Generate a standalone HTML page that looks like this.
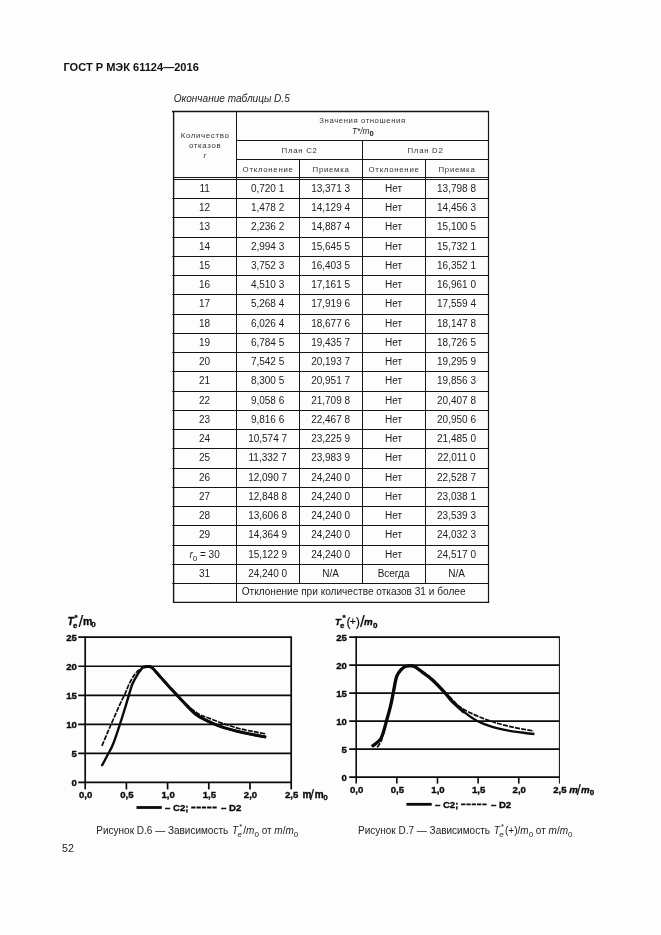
<!DOCTYPE html>
<html lang="ru"><head><meta charset="utf-8"><title>ГОСТ Р МЭК 61124—2016</title>
<style>
html,body{margin:0;padding:0;background:#fdfdfd}
body{width:661px;height:935px;position:relative;overflow:hidden;font-family:"Liberation Sans",sans-serif;color:#1a1a1a}
.l{position:absolute;background:#111}
.c,.h,.h2,.t{position:absolute;text-align:center;white-space:nowrap}
.c{font-size:10px;color:#1c1c1c;margin-top:-0.5px;margin-left:-0.5px}
.c sub{font-size:8px;vertical-align:-2.5px;line-height:0}
.h{font-size:7.8px;line-height:10.3px;color:#333;letter-spacing:0.7px}
.tm{font-size:8.3px;letter-spacing:0;color:#222;position:relative;top:-0.7px;left:0.3px}
.tm sub{font-size:7.6px;vertical-align:-2.4px;line-height:0;font-weight:bold;font-style:normal;color:#111}
.h2{font-size:7.8px;color:#333;letter-spacing:0.72px;padding-top:1px}
.t{text-align:left}
svg{position:absolute;left:0;top:0}
.tk{font-family:"Liberation Sans",sans-serif;font-weight:bold;font-size:9.6px;fill:#0a0a0a;stroke:#0a0a0a;stroke-width:0.35px}
sub.s{font-size:8px;line-height:0;vertical-align:-2.6px}
#pg{position:absolute;left:0;top:0;width:661px;height:935px;will-change:transform}
</style></head><body><div id="pg">
<div class="t" style="left:63.5px;top:60.8px;font-size:11.05px;font-weight:bold;line-height:13px;color:#111">ГОСТ Р МЭК 61124—2016</div>
<div class="t" style="left:173.7px;top:91.5px;font-size:10.05px;font-style:italic;line-height:13px;color:#222">Окончание таблицы D.5</div>
<div class="h" style="left:173.6px;top:130.5px;width:63.0px">Количество<br>отказов<br><i>r</i></div>
<div class="h" style="left:236.6px;top:116.2px;width:251.9px"><span style="letter-spacing:0.55px">Значения отношения</span><br><span class="tm"><i>T*/m</i><sub>0</sub></span></div>
<div class="h2" style="left:236.60px;top:140.40px;width:126.00px;height:19.30px;line-height:19.30px">План C2</div>
<div class="h2" style="left:362.60px;top:140.40px;width:125.90px;height:19.30px;line-height:19.30px">План D2</div>
<div class="h2" style="left:236.60px;top:159.70px;width:63.00px;height:17.60px;line-height:17.60px">Отклонение</div>
<div class="h2" style="left:299.60px;top:159.70px;width:63.00px;height:17.60px;line-height:17.60px">Приемка</div>
<div class="h2" style="left:362.60px;top:159.70px;width:62.90px;height:17.60px;line-height:17.60px">Отклонение</div>
<div class="h2" style="left:425.50px;top:159.70px;width:63.00px;height:17.60px;line-height:17.60px">Приемка</div>
<div class="c" style="left:173.60px;top:179.30px;width:63.00px;height:19.25px;line-height:19.25px">11</div>
<div class="c" style="left:236.60px;top:179.30px;width:63.00px;height:19.25px;line-height:19.25px">0,720 1</div>
<div class="c" style="left:299.60px;top:179.30px;width:63.00px;height:19.25px;line-height:19.25px">13,371 3</div>
<div class="c" style="left:362.60px;top:179.30px;width:62.90px;height:19.25px;line-height:19.25px">Нет</div>
<div class="c" style="left:425.50px;top:179.30px;width:63.00px;height:19.25px;line-height:19.25px">13,798 8</div>
<div class="c" style="left:173.60px;top:198.55px;width:63.00px;height:19.25px;line-height:19.25px">12</div>
<div class="c" style="left:236.60px;top:198.55px;width:63.00px;height:19.25px;line-height:19.25px">1,478 2</div>
<div class="c" style="left:299.60px;top:198.55px;width:63.00px;height:19.25px;line-height:19.25px">14,129 4</div>
<div class="c" style="left:362.60px;top:198.55px;width:62.90px;height:19.25px;line-height:19.25px">Нет</div>
<div class="c" style="left:425.50px;top:198.55px;width:63.00px;height:19.25px;line-height:19.25px">14,456 3</div>
<div class="c" style="left:173.60px;top:217.80px;width:63.00px;height:19.25px;line-height:19.25px">13</div>
<div class="c" style="left:236.60px;top:217.80px;width:63.00px;height:19.25px;line-height:19.25px">2,236 2</div>
<div class="c" style="left:299.60px;top:217.80px;width:63.00px;height:19.25px;line-height:19.25px">14,887 4</div>
<div class="c" style="left:362.60px;top:217.80px;width:62.90px;height:19.25px;line-height:19.25px">Нет</div>
<div class="c" style="left:425.50px;top:217.80px;width:63.00px;height:19.25px;line-height:19.25px">15,100 5</div>
<div class="c" style="left:173.60px;top:237.04px;width:63.00px;height:19.25px;line-height:19.25px">14</div>
<div class="c" style="left:236.60px;top:237.04px;width:63.00px;height:19.25px;line-height:19.25px">2,994 3</div>
<div class="c" style="left:299.60px;top:237.04px;width:63.00px;height:19.25px;line-height:19.25px">15,645 5</div>
<div class="c" style="left:362.60px;top:237.04px;width:62.90px;height:19.25px;line-height:19.25px">Нет</div>
<div class="c" style="left:425.50px;top:237.04px;width:63.00px;height:19.25px;line-height:19.25px">15,732 1</div>
<div class="c" style="left:173.60px;top:256.29px;width:63.00px;height:19.25px;line-height:19.25px">15</div>
<div class="c" style="left:236.60px;top:256.29px;width:63.00px;height:19.25px;line-height:19.25px">3,752 3</div>
<div class="c" style="left:299.60px;top:256.29px;width:63.00px;height:19.25px;line-height:19.25px">16,403 5</div>
<div class="c" style="left:362.60px;top:256.29px;width:62.90px;height:19.25px;line-height:19.25px">Нет</div>
<div class="c" style="left:425.50px;top:256.29px;width:63.00px;height:19.25px;line-height:19.25px">16,352 1</div>
<div class="c" style="left:173.60px;top:275.54px;width:63.00px;height:19.25px;line-height:19.25px">16</div>
<div class="c" style="left:236.60px;top:275.54px;width:63.00px;height:19.25px;line-height:19.25px">4,510 3</div>
<div class="c" style="left:299.60px;top:275.54px;width:63.00px;height:19.25px;line-height:19.25px">17,161 5</div>
<div class="c" style="left:362.60px;top:275.54px;width:62.90px;height:19.25px;line-height:19.25px">Нет</div>
<div class="c" style="left:425.50px;top:275.54px;width:63.00px;height:19.25px;line-height:19.25px">16,961 0</div>
<div class="c" style="left:173.60px;top:294.79px;width:63.00px;height:19.25px;line-height:19.25px">17</div>
<div class="c" style="left:236.60px;top:294.79px;width:63.00px;height:19.25px;line-height:19.25px">5,268 4</div>
<div class="c" style="left:299.60px;top:294.79px;width:63.00px;height:19.25px;line-height:19.25px">17,919 6</div>
<div class="c" style="left:362.60px;top:294.79px;width:62.90px;height:19.25px;line-height:19.25px">Нет</div>
<div class="c" style="left:425.50px;top:294.79px;width:63.00px;height:19.25px;line-height:19.25px">17,559 4</div>
<div class="c" style="left:173.60px;top:314.03px;width:63.00px;height:19.25px;line-height:19.25px">18</div>
<div class="c" style="left:236.60px;top:314.03px;width:63.00px;height:19.25px;line-height:19.25px">6,026 4</div>
<div class="c" style="left:299.60px;top:314.03px;width:63.00px;height:19.25px;line-height:19.25px">18,677 6</div>
<div class="c" style="left:362.60px;top:314.03px;width:62.90px;height:19.25px;line-height:19.25px">Нет</div>
<div class="c" style="left:425.50px;top:314.03px;width:63.00px;height:19.25px;line-height:19.25px">18,147 8</div>
<div class="c" style="left:173.60px;top:333.28px;width:63.00px;height:19.25px;line-height:19.25px">19</div>
<div class="c" style="left:236.60px;top:333.28px;width:63.00px;height:19.25px;line-height:19.25px">6,784 5</div>
<div class="c" style="left:299.60px;top:333.28px;width:63.00px;height:19.25px;line-height:19.25px">19,435 7</div>
<div class="c" style="left:362.60px;top:333.28px;width:62.90px;height:19.25px;line-height:19.25px">Нет</div>
<div class="c" style="left:425.50px;top:333.28px;width:63.00px;height:19.25px;line-height:19.25px">18,726 5</div>
<div class="c" style="left:173.60px;top:352.53px;width:63.00px;height:19.25px;line-height:19.25px">20</div>
<div class="c" style="left:236.60px;top:352.53px;width:63.00px;height:19.25px;line-height:19.25px">7,542 5</div>
<div class="c" style="left:299.60px;top:352.53px;width:63.00px;height:19.25px;line-height:19.25px">20,193 7</div>
<div class="c" style="left:362.60px;top:352.53px;width:62.90px;height:19.25px;line-height:19.25px">Нет</div>
<div class="c" style="left:425.50px;top:352.53px;width:63.00px;height:19.25px;line-height:19.25px">19,295 9</div>
<div class="c" style="left:173.60px;top:371.78px;width:63.00px;height:19.25px;line-height:19.25px">21</div>
<div class="c" style="left:236.60px;top:371.78px;width:63.00px;height:19.25px;line-height:19.25px">8,300 5</div>
<div class="c" style="left:299.60px;top:371.78px;width:63.00px;height:19.25px;line-height:19.25px">20,951 7</div>
<div class="c" style="left:362.60px;top:371.78px;width:62.90px;height:19.25px;line-height:19.25px">Нет</div>
<div class="c" style="left:425.50px;top:371.78px;width:63.00px;height:19.25px;line-height:19.25px">19,856 3</div>
<div class="c" style="left:173.60px;top:391.02px;width:63.00px;height:19.25px;line-height:19.25px">22</div>
<div class="c" style="left:236.60px;top:391.02px;width:63.00px;height:19.25px;line-height:19.25px">9,058 6</div>
<div class="c" style="left:299.60px;top:391.02px;width:63.00px;height:19.25px;line-height:19.25px">21,709 8</div>
<div class="c" style="left:362.60px;top:391.02px;width:62.90px;height:19.25px;line-height:19.25px">Нет</div>
<div class="c" style="left:425.50px;top:391.02px;width:63.00px;height:19.25px;line-height:19.25px">20,407 8</div>
<div class="c" style="left:173.60px;top:410.27px;width:63.00px;height:19.25px;line-height:19.25px">23</div>
<div class="c" style="left:236.60px;top:410.27px;width:63.00px;height:19.25px;line-height:19.25px">9,816 6</div>
<div class="c" style="left:299.60px;top:410.27px;width:63.00px;height:19.25px;line-height:19.25px">22,467 8</div>
<div class="c" style="left:362.60px;top:410.27px;width:62.90px;height:19.25px;line-height:19.25px">Нет</div>
<div class="c" style="left:425.50px;top:410.27px;width:63.00px;height:19.25px;line-height:19.25px">20,950 6</div>
<div class="c" style="left:173.60px;top:429.52px;width:63.00px;height:19.25px;line-height:19.25px">24</div>
<div class="c" style="left:236.60px;top:429.52px;width:63.00px;height:19.25px;line-height:19.25px">10,574 7</div>
<div class="c" style="left:299.60px;top:429.52px;width:63.00px;height:19.25px;line-height:19.25px">23,225 9</div>
<div class="c" style="left:362.60px;top:429.52px;width:62.90px;height:19.25px;line-height:19.25px">Нет</div>
<div class="c" style="left:425.50px;top:429.52px;width:63.00px;height:19.25px;line-height:19.25px">21,485 0</div>
<div class="c" style="left:173.60px;top:448.77px;width:63.00px;height:19.25px;line-height:19.25px">25</div>
<div class="c" style="left:236.60px;top:448.77px;width:63.00px;height:19.25px;line-height:19.25px">11,332 7</div>
<div class="c" style="left:299.60px;top:448.77px;width:63.00px;height:19.25px;line-height:19.25px">23,983 9</div>
<div class="c" style="left:362.60px;top:448.77px;width:62.90px;height:19.25px;line-height:19.25px">Нет</div>
<div class="c" style="left:425.50px;top:448.77px;width:63.00px;height:19.25px;line-height:19.25px">22,011 0</div>
<div class="c" style="left:173.60px;top:468.01px;width:63.00px;height:19.25px;line-height:19.25px">26</div>
<div class="c" style="left:236.60px;top:468.01px;width:63.00px;height:19.25px;line-height:19.25px">12,090 7</div>
<div class="c" style="left:299.60px;top:468.01px;width:63.00px;height:19.25px;line-height:19.25px">24,240 0</div>
<div class="c" style="left:362.60px;top:468.01px;width:62.90px;height:19.25px;line-height:19.25px">Нет</div>
<div class="c" style="left:425.50px;top:468.01px;width:63.00px;height:19.25px;line-height:19.25px">22,528 7</div>
<div class="c" style="left:173.60px;top:487.26px;width:63.00px;height:19.25px;line-height:19.25px">27</div>
<div class="c" style="left:236.60px;top:487.26px;width:63.00px;height:19.25px;line-height:19.25px">12,848 8</div>
<div class="c" style="left:299.60px;top:487.26px;width:63.00px;height:19.25px;line-height:19.25px">24,240 0</div>
<div class="c" style="left:362.60px;top:487.26px;width:62.90px;height:19.25px;line-height:19.25px">Нет</div>
<div class="c" style="left:425.50px;top:487.26px;width:63.00px;height:19.25px;line-height:19.25px">23,038 1</div>
<div class="c" style="left:173.60px;top:506.51px;width:63.00px;height:19.25px;line-height:19.25px">28</div>
<div class="c" style="left:236.60px;top:506.51px;width:63.00px;height:19.25px;line-height:19.25px">13,606 8</div>
<div class="c" style="left:299.60px;top:506.51px;width:63.00px;height:19.25px;line-height:19.25px">24,240 0</div>
<div class="c" style="left:362.60px;top:506.51px;width:62.90px;height:19.25px;line-height:19.25px">Нет</div>
<div class="c" style="left:425.50px;top:506.51px;width:63.00px;height:19.25px;line-height:19.25px">23,539 3</div>
<div class="c" style="left:173.60px;top:525.76px;width:63.00px;height:19.25px;line-height:19.25px">29</div>
<div class="c" style="left:236.60px;top:525.76px;width:63.00px;height:19.25px;line-height:19.25px">14,364 9</div>
<div class="c" style="left:299.60px;top:525.76px;width:63.00px;height:19.25px;line-height:19.25px">24,240 0</div>
<div class="c" style="left:362.60px;top:525.76px;width:62.90px;height:19.25px;line-height:19.25px">Нет</div>
<div class="c" style="left:425.50px;top:525.76px;width:63.00px;height:19.25px;line-height:19.25px">24,032 3</div>
<div class="c" style="left:173.60px;top:545.00px;width:63.00px;height:19.25px;line-height:19.25px"><i>r</i><sub>0</sub> = 30</div>
<div class="c" style="left:236.60px;top:545.00px;width:63.00px;height:19.25px;line-height:19.25px">15,122 9</div>
<div class="c" style="left:299.60px;top:545.00px;width:63.00px;height:19.25px;line-height:19.25px">24,240 0</div>
<div class="c" style="left:362.60px;top:545.00px;width:62.90px;height:19.25px;line-height:19.25px">Нет</div>
<div class="c" style="left:425.50px;top:545.00px;width:63.00px;height:19.25px;line-height:19.25px">24,517 0</div>
<div class="c" style="left:173.60px;top:564.25px;width:63.00px;height:19.25px;line-height:19.25px">31</div>
<div class="c" style="left:236.60px;top:564.25px;width:63.00px;height:19.25px;line-height:19.25px">24,240 0</div>
<div class="c" style="left:299.60px;top:564.25px;width:63.00px;height:19.25px;line-height:19.25px">N/A</div>
<div class="c" style="left:362.60px;top:564.25px;width:62.90px;height:19.25px;line-height:19.25px">Всегда</div>
<div class="c" style="left:425.50px;top:564.25px;width:63.00px;height:19.25px;line-height:19.25px">N/A</div>
<div class="c" style="left:242.20px;top:583.5px;height:18.80px;line-height:18.80px;font-size:10.1px;text-align:left">Отклонение при количестве отказов 31 и более</div>
<svg width="661" height="935" viewBox="0 0 661 935">
<g stroke="#151515"><line x1="172.00" y1="111.50" x2="489.10" y2="111.50" stroke-width="1.3"/>
<line x1="172.90" y1="602.30" x2="489.30" y2="602.30" stroke-width="1.3"/>
<line x1="173.60" y1="111.50" x2="173.60" y2="602.30" stroke-width="1.4"/>
<line x1="488.50" y1="111.50" x2="488.50" y2="602.30" stroke-width="1.2"/>
<line x1="236.60" y1="140.50" x2="488.50" y2="140.50" stroke-width="1.0"/>
<line x1="236.60" y1="159.50" x2="488.50" y2="159.50" stroke-width="1.0"/>
<line x1="173.60" y1="177.50" x2="488.50" y2="177.50" stroke-width="1.0"/>
<line x1="173.60" y1="179.50" x2="488.50" y2="179.50" stroke-width="1.0"/>
<line x1="236.50" y1="111.50" x2="236.50" y2="602.30" stroke-width="1.0"/>
<line x1="362.50" y1="140.40" x2="362.50" y2="583.50" stroke-width="1.0"/>
<line x1="299.50" y1="159.70" x2="299.50" y2="583.50" stroke-width="1.0"/>
<line x1="425.50" y1="159.70" x2="425.50" y2="583.50" stroke-width="1.0"/>
<line x1="172.20" y1="198.50" x2="488.50" y2="198.50" stroke-width="1.0"/>
<line x1="172.20" y1="217.50" x2="488.50" y2="217.50" stroke-width="1.0"/>
<line x1="172.20" y1="237.50" x2="488.50" y2="237.50" stroke-width="1.0"/>
<line x1="172.20" y1="256.50" x2="488.50" y2="256.50" stroke-width="1.0"/>
<line x1="172.20" y1="275.50" x2="488.50" y2="275.50" stroke-width="1.0"/>
<line x1="172.20" y1="294.50" x2="488.50" y2="294.50" stroke-width="1.0"/>
<line x1="172.20" y1="314.50" x2="488.50" y2="314.50" stroke-width="1.0"/>
<line x1="172.20" y1="333.50" x2="488.50" y2="333.50" stroke-width="1.0"/>
<line x1="172.20" y1="352.50" x2="488.50" y2="352.50" stroke-width="1.0"/>
<line x1="172.20" y1="371.50" x2="488.50" y2="371.50" stroke-width="1.0"/>
<line x1="172.20" y1="391.50" x2="488.50" y2="391.50" stroke-width="1.0"/>
<line x1="172.20" y1="410.50" x2="488.50" y2="410.50" stroke-width="1.0"/>
<line x1="172.20" y1="429.50" x2="488.50" y2="429.50" stroke-width="1.0"/>
<line x1="172.20" y1="448.50" x2="488.50" y2="448.50" stroke-width="1.0"/>
<line x1="172.20" y1="468.50" x2="488.50" y2="468.50" stroke-width="1.0"/>
<line x1="172.20" y1="487.50" x2="488.50" y2="487.50" stroke-width="1.0"/>
<line x1="172.20" y1="506.50" x2="488.50" y2="506.50" stroke-width="1.0"/>
<line x1="172.20" y1="525.50" x2="488.50" y2="525.50" stroke-width="1.0"/>
<line x1="172.20" y1="545.50" x2="488.50" y2="545.50" stroke-width="1.0"/>
<line x1="172.20" y1="564.50" x2="488.50" y2="564.50" stroke-width="1.0"/>
<line x1="172.20" y1="583.50" x2="488.50" y2="583.50" stroke-width="1.0"/></g>
<line x1="78.20" y1="637.20" x2="291.20" y2="637.20" stroke="#0a0a0a" stroke-width="1.7"/>
<line x1="78.20" y1="666.24" x2="291.20" y2="666.24" stroke="#0a0a0a" stroke-width="1.7"/>
<line x1="78.20" y1="695.28" x2="291.20" y2="695.28" stroke="#0a0a0a" stroke-width="1.7"/>
<line x1="78.20" y1="724.32" x2="291.20" y2="724.32" stroke="#0a0a0a" stroke-width="1.7"/>
<line x1="78.20" y1="753.36" x2="291.20" y2="753.36" stroke="#0a0a0a" stroke-width="1.7"/>
<line x1="78.20" y1="782.40" x2="291.20" y2="782.40" stroke="#0a0a0a" stroke-width="1.7"/>
<line x1="85.20" y1="636.35" x2="85.20" y2="789.40" stroke="#0a0a0a" stroke-width="1.7"/>
<line x1="291.20" y1="636.35" x2="291.20" y2="789.40" stroke="#0a0a0a" stroke-width="1.7"/>
<line x1="126.40" y1="782.40" x2="126.40" y2="789.40" stroke="#0a0a0a" stroke-width="1.7"/>
<line x1="167.60" y1="782.40" x2="167.60" y2="789.40" stroke="#0a0a0a" stroke-width="1.7"/>
<line x1="208.80" y1="782.40" x2="208.80" y2="789.40" stroke="#0a0a0a" stroke-width="1.7"/>
<line x1="250.00" y1="782.40" x2="250.00" y2="789.40" stroke="#0a0a0a" stroke-width="1.7"/>
<text x="76.80" y="640.60" text-anchor="end" class="tk" style="font-size:9.6px;">25</text>
<text x="76.80" y="669.64" text-anchor="end" class="tk" style="font-size:9.6px;">20</text>
<text x="76.80" y="698.68" text-anchor="end" class="tk" style="font-size:9.6px;">15</text>
<text x="76.80" y="727.72" text-anchor="end" class="tk" style="font-size:9.6px;">10</text>
<text x="76.80" y="756.76" text-anchor="end" class="tk" style="font-size:9.6px;">5</text>
<text x="76.80" y="785.80" text-anchor="end" class="tk" style="font-size:9.6px;">0</text>
<text x="85.70" y="797.80" text-anchor="middle" class="tk" style="font-size:9.6px;">0,0</text>
<text x="126.90" y="797.80" text-anchor="middle" class="tk" style="font-size:9.6px;">0,5</text>
<text x="168.10" y="797.80" text-anchor="middle" class="tk" style="font-size:9.6px;">1,0</text>
<text x="209.30" y="797.80" text-anchor="middle" class="tk" style="font-size:9.6px;">1,5</text>
<text x="250.50" y="797.80" text-anchor="middle" class="tk" style="font-size:9.6px;">2,0</text>
<text x="291.70" y="797.80" text-anchor="middle" class="tk" style="font-size:9.6px;">2,5</text>
<text x="67.60" y="624.50" text-anchor="start" class="tk" style="font-size:10.2px;font-style:italic;">T</text>
<text x="74.60" y="619.60" text-anchor="start" class="tk" style="font-size:8px;">*</text>
<text x="73.00" y="627.80" text-anchor="start" class="tk" style="font-size:7.8px;">e</text>
<text x="78.50" y="627.00" text-anchor="start" class="tk" style="font-size:17px;font-weight:normal;stroke-width:0.15px;">/</text>
<text x="83.00" y="624.50" text-anchor="start" class="tk" style="font-size:10.5px;">m</text>
<text x="91.30" y="627.30" text-anchor="start" class="tk" style="font-size:8px;">0</text>
<text x="302.60" y="797.80" text-anchor="start" class="tk" style="font-size:10px;">m</text>
<text x="310.00" y="799.60" text-anchor="start" class="tk" style="font-size:14.5px;font-weight:normal;stroke-width:0.15px;">/</text>
<text x="314.80" y="797.80" text-anchor="start" class="tk" style="font-size:10px;">m</text>
<text x="323.20" y="800.40" text-anchor="start" class="tk" style="font-size:8px;">0</text>
<path d="M101.9,745.8 C102.9,743.5 105.9,736.5 107.7,732.2 C109.5,727.9 111.1,724.3 113.0,720.0 C114.9,715.7 117.0,710.8 119.0,706.4 C121.0,702.0 123.4,697.2 125.1,693.6 C126.8,690.0 127.5,687.4 128.9,684.5 C130.3,681.6 131.9,678.5 133.4,676.2 C134.9,673.9 136.4,672.4 138.0,670.9 C139.6,669.4 141.7,667.9 143.2,667.1 C144.7,666.4 145.6,666.4 147.0,666.4 C148.4,666.4 149.4,665.6 151.6,667.2 C153.8,668.9 156.9,672.9 160.0,676.3 C163.1,679.6 166.2,683.2 170.0,687.3 C173.8,691.4 178.2,696.5 182.7,700.8 C187.2,705.1 192.6,710.1 197.2,713.1 C201.8,716.1 205.4,716.8 210.0,718.6 C214.6,720.4 219.7,722.4 224.5,724.0 C229.3,725.6 234.2,727.2 239.0,728.5 C243.8,729.8 249.0,730.7 253.5,731.6 C258.0,732.5 264.1,733.6 266.2,734.0" fill="none" stroke="#0a0a0a" stroke-width="1.7" stroke-dasharray="5 1.2"/>
<path d="M101.7,766.0 C102.7,764.1 105.8,758.4 107.7,754.8 C109.6,751.2 111.0,749.3 113.0,744.3 C115.0,739.3 117.9,730.4 119.8,724.6 C121.7,718.8 123.1,714.4 124.6,709.5 C126.1,704.6 127.7,699.1 128.9,695.1 C130.1,691.1 130.8,688.2 131.9,685.3 C133.0,682.4 134.4,680.0 135.7,677.7 C137.0,675.4 138.2,673.3 139.5,671.6 C140.8,669.9 141.9,668.1 143.2,667.3 C144.4,666.5 145.6,666.6 147.0,666.6 C148.4,666.6 149.4,665.8 151.6,667.4 C153.8,669.0 156.9,673.1 160.0,676.5 C163.1,679.9 166.2,683.6 170.0,687.7 C173.8,691.8 178.5,696.9 182.7,701.3 C186.9,705.7 191.5,710.8 195.4,714.0 C199.3,717.2 202.1,718.3 206.3,720.4 C210.5,722.5 215.7,724.9 220.8,726.7 C226.0,728.5 232.0,730.0 237.2,731.3 C242.3,732.6 246.9,733.4 251.7,734.4 C256.5,735.4 263.8,736.6 266.2,737.1" fill="none" stroke="#0a0a0a" stroke-width="2.4" stroke-linejoin="round"/>
<path d="M143.2,667.3 C143.8,667.2 145.6,666.6 147.0,666.6 C148.4,666.6 149.4,665.8 151.6,667.4 C153.8,669.0 156.9,673.1 160.0,676.5 C163.1,679.9 166.2,683.6 170.0,687.7 C173.8,691.8 178.5,696.9 182.7,701.3 C186.9,705.7 191.5,710.8 195.4,714.0 C199.3,717.2 202.1,718.3 206.3,720.4 C210.5,722.5 215.7,724.9 220.8,726.7 C226.0,728.5 232.0,730.0 237.2,731.3 C242.3,732.6 246.9,733.4 251.7,734.4 C256.5,735.4 263.8,736.6 266.2,737.1" fill="none" stroke="#0a0a0a" stroke-width="3.0" stroke-linejoin="round"/>
<line x1="136.50" y1="807.50" x2="161.80" y2="807.50" stroke="#0a0a0a" stroke-width="2.8"/>
<text x="165.00" y="810.90" text-anchor="start" class="tk" style="font-size:9.6px;">– C2;</text>
<line x1="191.20" y1="807.50" x2="216.70" y2="807.50" stroke="#0a0a0a" stroke-width="1.8" stroke-dasharray="4.3 1"/>
<text x="221.00" y="810.90" text-anchor="start" class="tk" style="font-size:9.6px;">– D2</text>
<line x1="349.20" y1="637.10" x2="559.40" y2="637.10" stroke="#0a0a0a" stroke-width="1.6"/>
<line x1="349.20" y1="665.10" x2="559.40" y2="665.10" stroke="#0a0a0a" stroke-width="1.6"/>
<line x1="349.20" y1="693.10" x2="559.40" y2="693.10" stroke="#0a0a0a" stroke-width="1.6"/>
<line x1="349.20" y1="721.10" x2="559.40" y2="721.10" stroke="#0a0a0a" stroke-width="1.6"/>
<line x1="349.20" y1="749.10" x2="559.40" y2="749.10" stroke="#0a0a0a" stroke-width="1.6"/>
<line x1="349.20" y1="777.10" x2="559.40" y2="777.10" stroke="#0a0a0a" stroke-width="1.6"/>
<line x1="356.20" y1="636.30" x2="356.20" y2="783.60" stroke="#0a0a0a" stroke-width="1.6"/>
<line x1="559.40" y1="636.30" x2="559.40" y2="783.60" stroke="#0a0a0a" stroke-width="1.0"/>
<line x1="396.84" y1="777.10" x2="396.84" y2="783.60" stroke="#0a0a0a" stroke-width="1.6"/>
<line x1="437.48" y1="777.10" x2="437.48" y2="783.60" stroke="#0a0a0a" stroke-width="1.6"/>
<line x1="478.12" y1="777.10" x2="478.12" y2="783.60" stroke="#0a0a0a" stroke-width="1.6"/>
<line x1="518.76" y1="777.10" x2="518.76" y2="783.60" stroke="#0a0a0a" stroke-width="1.6"/>
<text x="346.90" y="640.50" text-anchor="end" class="tk" style="font-size:9.6px;">25</text>
<text x="346.90" y="668.50" text-anchor="end" class="tk" style="font-size:9.6px;">20</text>
<text x="346.90" y="696.50" text-anchor="end" class="tk" style="font-size:9.6px;">15</text>
<text x="346.90" y="724.50" text-anchor="end" class="tk" style="font-size:9.6px;">10</text>
<text x="346.90" y="752.50" text-anchor="end" class="tk" style="font-size:9.6px;">5</text>
<text x="346.90" y="780.50" text-anchor="end" class="tk" style="font-size:9.6px;">0</text>
<text x="356.70" y="793.30" text-anchor="middle" class="tk" style="font-size:9.6px;">0,0</text>
<text x="397.34" y="793.30" text-anchor="middle" class="tk" style="font-size:9.6px;">0,5</text>
<text x="437.98" y="793.30" text-anchor="middle" class="tk" style="font-size:9.6px;">1,0</text>
<text x="478.62" y="793.30" text-anchor="middle" class="tk" style="font-size:9.6px;">1,5</text>
<text x="519.26" y="793.30" text-anchor="middle" class="tk" style="font-size:9.6px;">2,0</text>
<text x="559.90" y="793.30" text-anchor="middle" class="tk" style="font-size:9.6px;">2,5</text>
<text x="335.00" y="625.00" text-anchor="start" class="tk" style="font-size:9.4px;font-style:italic;">T</text>
<text x="342.40" y="619.60" text-anchor="start" class="tk" style="font-size:8px;">*</text>
<text x="340.00" y="628.00" text-anchor="start" class="tk" style="font-size:7.8px;">e</text>
<text x="346.60" y="625.50" text-anchor="start" class="tk" style="font-size:12.5px;font-weight:normal;stroke-width:0.15px;">(</text>
<text x="349.80" y="625.30" text-anchor="start" class="tk" style="font-size:10.5px;font-weight:normal;stroke-width:0.15px;">+</text>
<text x="355.80" y="625.50" text-anchor="start" class="tk" style="font-size:12.5px;font-weight:normal;stroke-width:0.15px;">)</text>
<text x="359.90" y="626.80" text-anchor="start" class="tk" style="font-size:17px;font-weight:normal;stroke-width:0.15px;">/</text>
<text x="364.00" y="625.00" text-anchor="start" class="tk" style="font-size:9.8px;font-style:italic;">m</text>
<text x="373.00" y="627.70" text-anchor="start" class="tk" style="font-size:8px;">0</text>
<text x="569.30" y="793.30" text-anchor="start" class="tk" style="font-size:9.8px;font-style:italic;">m</text>
<text x="576.80" y="794.60" text-anchor="start" class="tk" style="font-size:14.5px;font-weight:normal;stroke-width:0.15px;">/</text>
<text x="581.00" y="793.30" text-anchor="start" class="tk" style="font-size:9.8px;font-style:italic;">m</text>
<text x="589.80" y="795.40" text-anchor="start" class="tk" style="font-size:8px;">0</text>
<path d="M377.2,747.3 C377.9,746.0 380.2,744.0 381.7,739.7 C383.2,735.4 384.8,727.4 386.3,721.6 C387.8,715.8 389.6,710.2 390.8,704.9 C392.1,699.6 392.8,694.6 393.8,689.8 C394.8,685.0 395.5,679.6 396.8,676.2 C398.1,672.8 399.9,671.0 401.4,669.4 C402.9,667.8 404.4,666.9 405.9,666.3 C407.4,665.7 409.0,665.7 410.5,665.7 C412.0,665.7 413.0,665.5 415.0,666.5 C417.0,667.5 419.7,669.5 422.6,671.6 C425.5,673.7 428.7,675.6 432.4,679.0 C436.1,682.4 441.6,688.4 444.9,691.8 C448.2,695.2 449.7,696.9 452.0,699.3 C454.3,701.6 455.8,703.8 458.6,705.9 C461.4,708.0 464.8,710.1 469.0,712.2 C473.2,714.3 478.8,716.7 483.6,718.6 C488.5,720.5 493.3,722.1 498.1,723.5 C502.9,724.9 508.1,726.1 512.6,727.1 C517.1,728.1 521.8,728.9 525.3,729.5 C528.8,730.1 532.1,730.7 533.5,730.9" fill="none" stroke="#0a0a0a" stroke-width="1.7" stroke-dasharray="5 1.2"/>
<path d="M371.9,746.5 C373.4,745.1 378.6,742.4 381.0,738.2 C383.4,734.1 384.7,727.2 386.3,721.6 C387.9,716.0 389.6,710.2 390.8,704.9 C392.1,699.6 392.8,694.6 393.8,689.8 C394.8,685.0 395.5,679.6 396.8,676.2 C398.1,672.8 399.9,671.0 401.4,669.4 C402.9,667.8 404.4,666.9 405.9,666.3 C407.4,665.7 409.0,665.8 410.5,665.9 C412.0,666.0 413.0,665.7 415.0,666.8 C417.0,667.9 419.7,670.2 422.6,672.4 C425.5,674.6 428.7,676.6 432.4,680.0 C436.1,683.4 441.6,689.2 444.9,692.8 C448.2,696.3 449.0,698.1 452.2,701.3 C455.4,704.5 460.2,709.0 464.2,712.2 C468.2,715.4 471.9,718.0 476.3,720.4 C480.7,722.8 485.7,724.7 490.8,726.4 C495.9,728.1 502.0,729.4 507.2,730.4 C512.4,731.4 517.2,731.9 521.7,732.5 C526.2,733.1 532.3,733.8 534.4,734.0" fill="none" stroke="#0a0a0a" stroke-width="2.3" stroke-linejoin="round"/>
<path d="M371.9,746.5 C373.4,745.1 378.6,742.4 381.0,738.2 C383.4,734.1 384.7,727.2 386.3,721.6 C387.9,716.0 389.6,710.2 390.8,704.9 C392.1,699.6 392.8,694.6 393.8,689.8 C394.8,685.0 395.5,679.6 396.8,676.2 C398.1,672.8 399.9,671.0 401.4,669.4 C402.9,667.8 404.4,666.9 405.9,666.3 C407.4,665.7 409.0,665.8 410.5,665.9 C412.0,666.0 413.0,665.7 415.0,666.8 C417.0,667.9 419.7,670.2 422.6,672.4 C425.5,674.6 428.7,676.6 432.4,680.0 C436.1,683.4 441.6,689.2 444.9,692.8 C448.2,696.3 449.0,698.1 452.2,701.3 C455.4,704.5 462.2,710.4 464.2,712.2" fill="none" stroke="#0a0a0a" stroke-width="3.3" stroke-linejoin="round"/>
<line x1="406.40" y1="804.30" x2="431.70" y2="804.30" stroke="#0a0a0a" stroke-width="2.8"/>
<text x="434.90" y="807.70" text-anchor="start" class="tk" style="font-size:9.6px;">– C2;</text>
<line x1="461.10" y1="804.30" x2="486.60" y2="804.30" stroke="#0a0a0a" stroke-width="1.8" stroke-dasharray="4.3 1"/>
<text x="490.90" y="807.70" text-anchor="start" class="tk" style="font-size:9.6px;">– D2</text>
</svg>
<div class="t" style="left:96.3px;top:824px;font-size:10px;line-height:13px;color:#222">Рисунок D.6 — Зависимость <i style="margin-left:1px">T</i><span style="position:relative;display:inline-block;width:5.2px;height:8px;vertical-align:baseline"><span style="position:absolute;left:1.2px;top:-6px;font-size:7.5px">*</span><i style="position:absolute;left:-0.5px;top:2.2px;font-size:8px">e</i></span>/<i>m</i><sub class="s">0</sub> от <i>m</i>/<i>m</i><sub class="s">0</sub></div>
<div class="t" style="left:358px;top:824px;font-size:10px;line-height:13px;color:#222">Рисунок D.7 — Зависимость <i style="margin-left:1px">T</i><span style="position:relative;display:inline-block;width:5.2px;height:8px;vertical-align:baseline"><span style="position:absolute;left:1.2px;top:-6px;font-size:7.5px">*</span><i style="position:absolute;left:-0.5px;top:2.2px;font-size:8px">e</i></span>(+)/<i>m</i><sub class="s">0</sub> от <i>m</i>/<i>m</i><sub class="s">0</sub></div>
<div class="t" style="left:62.1px;top:841.9px;font-size:10.7px;line-height:13px;color:#222">52</div>
</div></body></html>
